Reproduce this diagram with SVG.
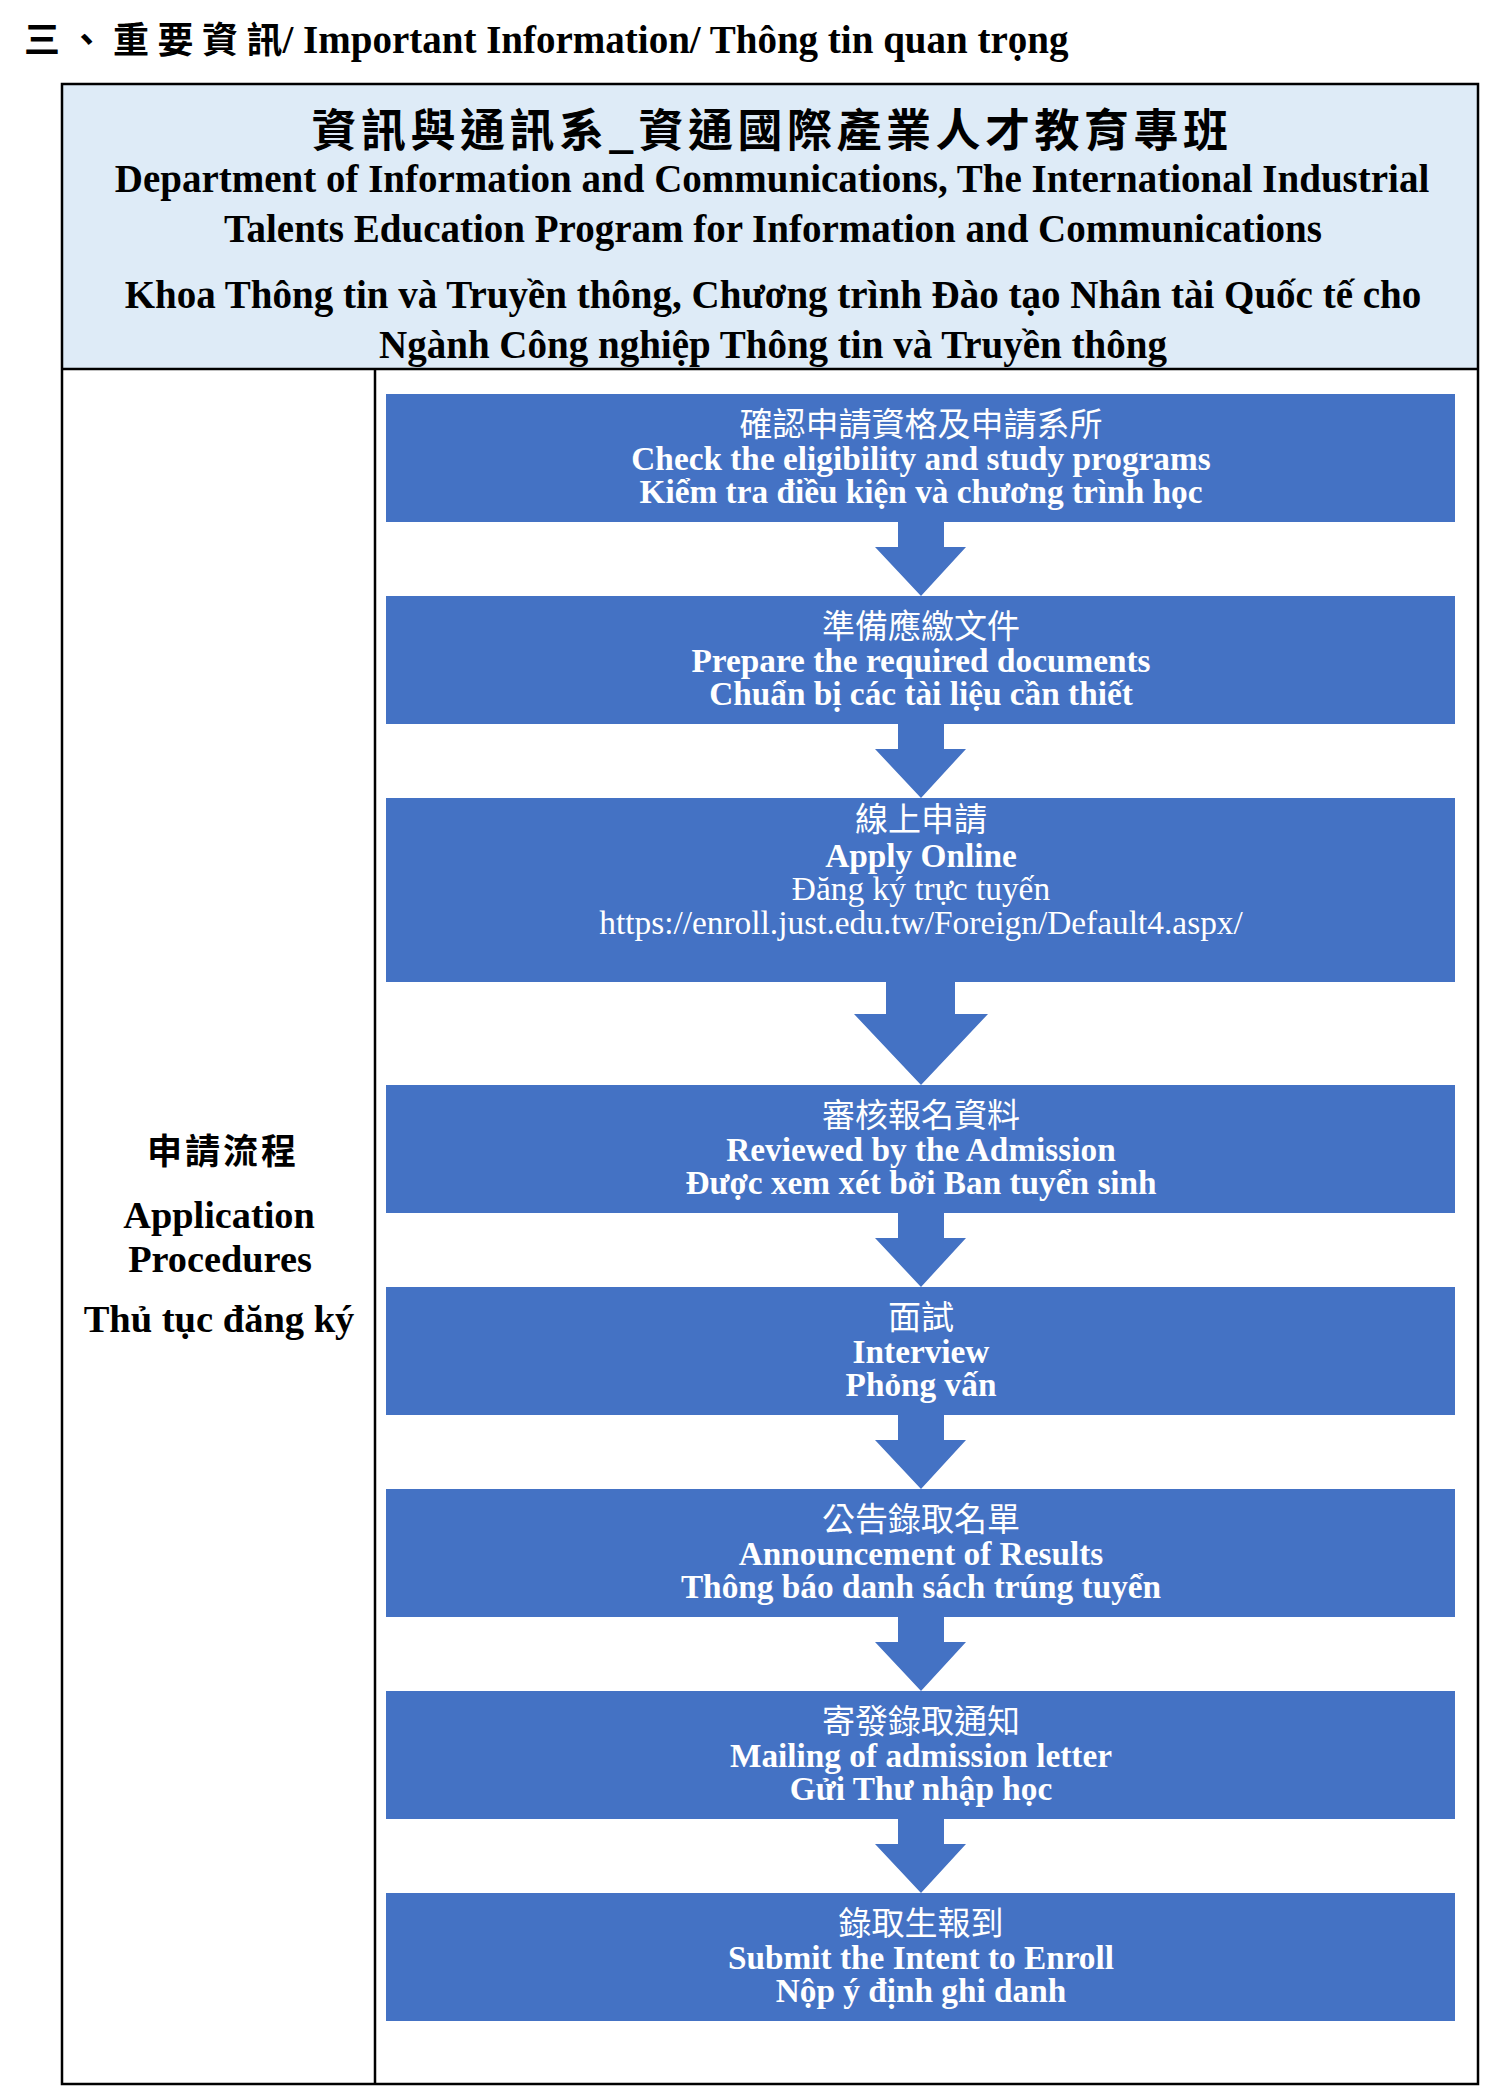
<svg xmlns="http://www.w3.org/2000/svg" width="1492" height="2091" viewBox="0 0 1492 2091">
<style>
.bg{fill:#ffffff}
.hdr{fill:#DEEBF7}
.line{stroke:#000;stroke-width:2.5;fill:none}
.box{fill:#4472C4}
.arrow{fill:#4472C4}
.t{font-family:"Liberation Serif","Noto Sans CJK TC",serif;font-weight:bold;fill:#000}
.cjkb{font-family:"Noto Sans CJK TC","Liberation Serif",sans-serif;font-weight:bold;fill:#000}
.w{font-family:"Liberation Serif","Noto Sans CJK TC",serif;font-weight:bold;fill:#fff;font-size:33.3px;text-anchor:middle}
.wr{font-family:"Liberation Serif","Noto Sans CJK TC",serif;font-weight:normal;fill:#fff;font-size:33.4px;text-anchor:middle}
.wc{font-family:"Noto Sans CJK TC",sans-serif;font-weight:normal;fill:#fff;font-size:33px;text-anchor:middle}
.c{text-anchor:middle}
</style>
<rect class="bg" x="0" y="0" width="1492" height="2091"/>
<g id="title">
<text class="t" x="24" y="53" font-size="39"><tspan class="cjkb" font-size="36" letter-spacing="8.5">三、重要資訊</tspan><tspan dx="-8.5">/ Important Information/ Thông tin quan trọng</tspan></text>
</g>
<g id="table">
<rect class="hdr" x="62" y="84" width="1416" height="285"/>
<rect class="line" x="62" y="84" width="1416" height="2000"/>
<line class="line" x1="62" y1="369" x2="1478" y2="369"/>
<line class="line" x1="375" y1="369" x2="375" y2="2084"/>
</g>
<g id="header">
<text class="cjkb c" x="772" y="147" font-size="45" letter-spacing="4.5">資訊與通訊系_資通國際產業人才教育專班</text>
<text class="t c" x="772" y="192" font-size="39">Department of Information and Communications, The International Industrial</text>
<text class="t c" x="773" y="242" font-size="39">Talents Education Program for Information and Communications</text>
<text class="t c" x="773" y="308" font-size="39">Khoa Thông tin và Truyền thông, Chương trình Đào tạo Nhân tài Quốc tế cho</text>
<text class="t c" x="773" y="358" font-size="39">Ngành Công nghiệp Thông tin và Truyền thông</text>
</g>
<g id="side-label">
<text class="cjkb c" x="223" y="1164" font-size="35" letter-spacing="3">申請流程</text>
<text class="t c" x="219" y="1228" font-size="38.3">Application</text>
<text class="t c" x="220" y="1272" font-size="38.3">Procedures</text>
<text class="t c" x="219" y="1332" font-size="38.5">Thủ tục đăng ký</text>
</g>
<g id="connectors">
<polygon class="arrow" points="898,521 944,521 944,547 966,547 921,596 875,547 898,547"/>
<polygon class="arrow" points="898,723 944,723 944,749 966,749 921,798 875,749 898,749"/>
<polygon class="arrow" points="886,981 955,981 955,1014 988,1014 921,1085 854,1014 886,1014"/>
<polygon class="arrow" points="898,1212 944,1212 944,1238 966,1238 921,1287 875,1238 898,1238"/>
<polygon class="arrow" points="898,1414 944,1414 944,1440 966,1440 921,1489 875,1440 898,1440"/>
<polygon class="arrow" points="898,1616 944,1616 944,1642 966,1642 921,1691 875,1642 898,1642"/>
<polygon class="arrow" points="898,1818 944,1818 944,1844 966,1844 921,1893 875,1844 898,1844"/>
</g>
<g id="step1">
<rect class="box" x="386" y="394" width="1069" height="128"/>
<text class="wc" x="921" y="436">確認申請資格及申請系所</text>
<text class="w" x="921" y="470">Check the eligibility and study programs</text>
<text class="w" x="921" y="503">Kiểm tra điều kiện và chương trình học</text>
</g>
<g id="step2">
<rect class="box" x="386" y="596" width="1069" height="128"/>
<text class="wc" x="921" y="638">準備應繳文件</text>
<text class="w" x="921" y="672">Prepare the required documents</text>
<text class="w" x="921" y="705">Chuẩn bị các tài liệu cần thiết</text>
</g>
<g id="step3">
<rect class="box" x="386" y="798" width="1069" height="184"/>
<text class="wc" x="921" y="831">線上申請</text>
<text class="w" x="921" y="867">Apply Online</text>
<text class="wr" x="921" y="900">Đăng ký trực tuyến</text>
<text class="wr" x="921" y="934">https://enroll.just.edu.tw/Foreign/Default4.aspx/</text>
</g>
<g id="step4">
<rect class="box" x="386" y="1085" width="1069" height="128"/>
<text class="wc" x="921" y="1127">審核報名資料</text>
<text class="w" x="921" y="1161">Reviewed by the Admission</text>
<text class="w" x="921" y="1194">Được xem xét bởi Ban tuyển sinh</text>
</g>
<g id="step5">
<rect class="box" x="386" y="1287" width="1069" height="128"/>
<text class="wc" x="921" y="1329">面試</text>
<text class="w" x="921" y="1363">Interview</text>
<text class="w" x="921" y="1396">Phỏng vấn</text>
</g>
<g id="step6">
<rect class="box" x="386" y="1489" width="1069" height="128"/>
<text class="wc" x="921" y="1531">公告錄取名單</text>
<text class="w" x="921" y="1565">Announcement of Results</text>
<text class="w" x="921" y="1598">Thông báo danh sách trúng tuyển</text>
</g>
<g id="step7">
<rect class="box" x="386" y="1691" width="1069" height="128"/>
<text class="wc" x="921" y="1733">寄發錄取通知</text>
<text class="w" x="921" y="1767">Mailing of admission letter</text>
<text class="w" x="921" y="1800">Gửi Thư nhập học</text>
</g>
<g id="step8">
<rect class="box" x="386" y="1893" width="1069" height="128"/>
<text class="wc" x="921" y="1935">錄取生報到</text>
<text class="w" x="921" y="1969">Submit the Intent to Enroll</text>
<text class="w" x="921" y="2002">Nộp ý định ghi danh</text>
</g>
</svg>
